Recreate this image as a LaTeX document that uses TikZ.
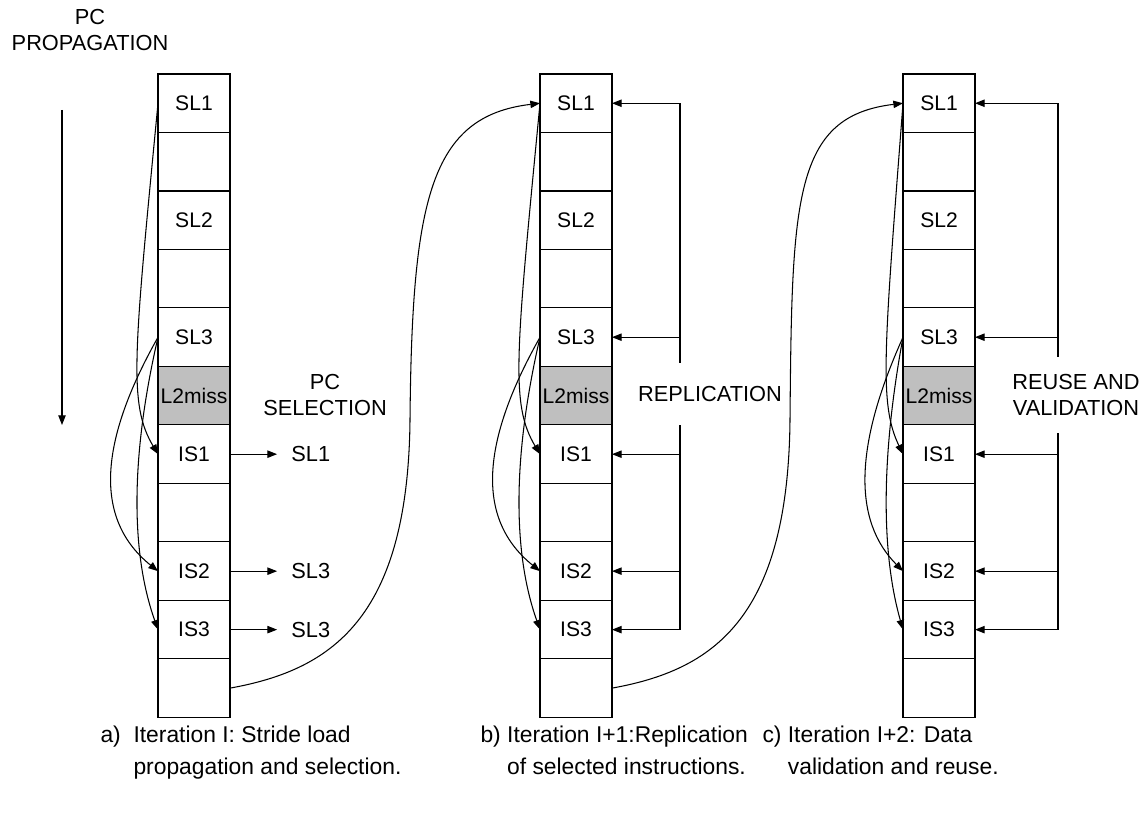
\documentclass[tikz,border=0pt]{standalone}
\usepackage{fontspec}
\setmainfont{Liberation Sans}
\usetikzlibrary{positioning,calc,arrows.meta}

\tikzset{
  cell/.style={draw, minimum width=1.44cm, minimum height=1.17cm, inner sep=0pt, outer sep=0pt,
    font=\fontsize{12}{14.7}\selectfont},
  lbl/.style={align=center, font=\fontsize{12.4}{14.7}\selectfont},
  captxt/.style={anchor=west, inner sep=0pt, font=\fontsize{13}{18}\selectfont},
}

\begin{document}
\begin{tikzpicture}[x=0.02cm, y=0.02cm, line width=0.6pt, >={Triangle[length=5.5pt,width=4.2pt]}]
  \useasboundingbox (0,0) rectangle (1147,-814);
  % the three instruction windows
  \foreach \col/\x/\tight in {a/194/1, b/576/1, c/939/0.8} {
    \node[cell] (\col SL1) at (\x,-103.25) {SL1};
    \node[cell] (\col 2) [below=0pt of \col SL1] {};
    \node[cell] (\col SL2) [below=0pt of \col 2] {SL2};
    \node[cell] (\col 4) [below=0pt of \col SL2] {};
    \node[cell] (\col SL3) [below=0pt of \col 4] {SL3};
    \node[cell,fill=black!25] (\col L2) [below=0pt of \col SL3] {L2miss};
    \node[cell] (\col IS1) [below=0pt of \col L2] {IS1};
    \node[cell] (\col 8) [below=0pt of \col IS1] {};
    \node[cell] (\col IS2) [below=0pt of \col 8] {IS2};
    \node[cell] (\col IS3) [below=0pt of \col IS2] {IS3};
    \node[cell] (\col 11) [below=0pt of \col IS3] {};
    \draw[->] (\col SL1.west) .. controls ($(\col SL1.west)+({-24*\tight},-250)$)
      and ($(\col IS1.west)+({-30*\tight},50)$) .. (\col IS1.west);
    \draw[->] (\col SL3.west) .. controls ($(\col SL3.west)+({-62*\tight},-110)$)
      and ($(\col IS2.west)+({-62*\tight},50)$) .. (\col IS2.west);
    \draw[->] (\col SL3.west) .. controls ($(\col SL3.west)+({-30*\tight},-130)$)
      and ($(\col IS3.west)+({-25*\tight},70)$) .. (\col IS3.west);
  }
  % from one iteration to the next
  \foreach \src/\dst/\mx in {a/b/410, b/c/790}
    \draw[->] (\src 11.east) .. controls ($(\src 11.east)+(100,18)$) and ({\mx-2},-620) .. (\mx,-420)
      .. controls ({\mx+2},-200) and ($(\dst SL1.west)+(-110,-13)$) .. (\dst SL1.west);
  % feedback buses
  \foreach \col/\bx in {b/680, c/1058} {
    \coordinate (\col bus) at (\bx,0);
    \draw (\col SL1 -| \col bus) -- (\col IS3 -| \col bus);
    \foreach \rw in {SL1,SL3,IS1,IS2,IS3}
      \draw[->] (\col\rw -| \col bus) -- (\col\rw.east);
  }
  \node[lbl, fill=white, inner ysep=13pt, inner xsep=1pt] (repl) at (710,-394) {REPLICATION};
  \node[lbl, fill=white, inner ysep=10pt, inner xsep=1pt] (reuse) at (1076,-395) {REUSE AND\\VALIDATION};
  % selection of column a
  \node[lbl] (pcsel) at (325,-395) {PC\\SELECTION};
  \node[lbl] (pick1) [right=1.1cm of aIS1] {SL1};
  \node[lbl] (pick2) [right=1.1cm of aIS2] {SL3};
  \node[lbl] (pick3) [right=1.1cm of aIS3] {SL3};
  \path[->, shorten >=4.5pt] (aIS1) edge (pick1) (aIS2) edge (pick2) (aIS3) edge (pick3);
  % propagation
  \node[lbl] (prop) at (90,-30) {PC\\PROPAGATION};
  \coordinate (pctop) at (62,-110);
  \coordinate (pcbot) at (62,-425);
  \draw[->] (pctop) -- (pcbot);
  % captions
  \node[captxt] (capa) at (100,-752) {\begin{tabular}{@{}l@{\ \ }l@{}}a) & Iteration I: Stride load\\ & propagation and selection.\end{tabular}};
  \node[captxt] (capb) at (480,-752) {\begin{tabular}{@{}l@{\ }l@{}}b) & Iteration I+1:Replication\\ & of selected instructions.\end{tabular}};
  \node[captxt] (capc) at (762,-752) {\begin{tabular}{@{}l@{\ }l@{}}c) & Iteration I+2: Data\\ & validation and reuse.\end{tabular}};
\end{tikzpicture}
\end{document}
